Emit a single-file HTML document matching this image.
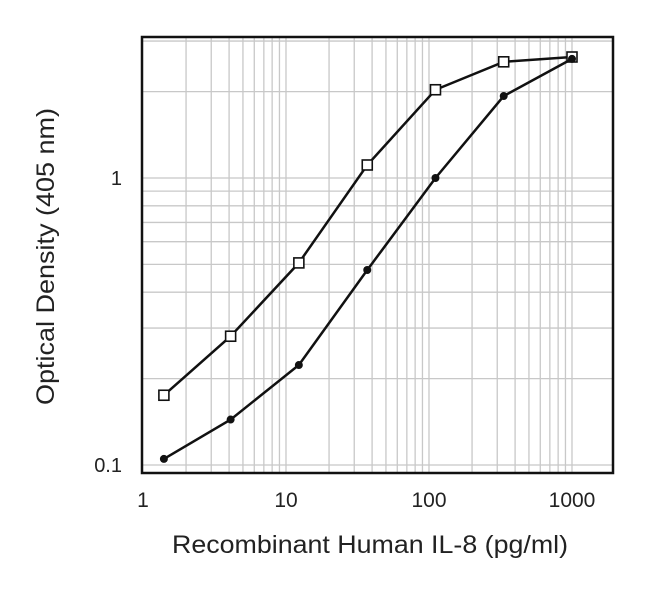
<!DOCTYPE html>
<html><head><meta charset="utf-8"><style>
body{margin:0;background:#fff;}
svg{display:block;font-family:"Liberation Sans",Arial,sans-serif;}
</style></head><body>
<svg id="chart" width="650" height="593" xmlns="http://www.w3.org/2000/svg"></svg>
<script>
const concentrations=[1.4,4.1,12.3,37,111,333,1000];
const openSeries=[0.175,0.281,0.506,1.11,2.03,2.54,2.64];
const filledSeries=[0.105,0.144,0.223,0.478,1.0,1.93,2.6];
const xTickValues=[1,10,100,1000];
const xTickLabels=["1","10","100","1000"];
const yTickValues=[0.1,1];
const yTickLabels=["0.1","1"];

const NS="http://www.w3.org/2000/svg";
const svg=document.getElementById('chart');
const L=142,R=613,T=37,B=473;
const xDec=143, yDec=287;
function xs(v){return 143+Math.log10(v)*xDec;}
function ys(v){return 178-Math.log10(v)*yDec;}
function mk(tag,attrs,parent){const e=document.createElementNS(NS,tag);for(const k in attrs)e.setAttribute(k,attrs[k]);(parent||svg).appendChild(e);return e;}

const grid=mk('g',{});


for(let d=1;d<=1000;d*=10){for(let m=1;m<=9;m++){const v=d*m;const x=xs(v);if(x<=L+1||x>=R)continue;
 const l=mk('line',{x1:x,x2:x,y1:T,y2:B,stroke:'#c8c8c8','stroke-width':1.3},grid);
 
 }}
for(let d=0.1;d<=1;d*=10){for(let m=1;m<=9;m++){const v=d*m;const y=ys(v);if(y<=T+1||y>=B-0.5)continue;
 const l=mk('line',{x1:L,x2:R,y1:y,y2:y,stroke:'#c8c8c8','stroke-width':1.3},grid);
 
 }}

const frame=mk('rect',{x:L,y:T,width:R-L,height:B-T,fill:'none',stroke:'#111','stroke-width':2.5});



xTickValues.forEach((v,i)=>{const t=mk('text',{x:xs(v),y:507,'text-anchor':'middle','font-size':21,fill:'#222'});t.textContent=xTickLabels[i];
 
 });
yTickValues.forEach((v,i)=>{const t=mk('text',{x:122,y:ys(v)+7,'text-anchor':'end','font-size':20,fill:'#222'});t.textContent=yTickLabels[i];
 
 });

function series(vals,filled,name){
 const g=mk('g',{});
 
 
 const pts=concentrations.map((c,i)=>xs(c)+','+ys(vals[i])).join(' ');
 const pl=mk('polyline',{points:pts,fill:'none',stroke:'#111','stroke-width':2.5},g);
 
 
 concentrations.forEach((c,i)=>{let m;
  if(filled){m=mk('circle',{cx:xs(c),cy:ys(vals[i]),r:4,fill:'#111'},g);}
  else{m=mk('rect',{x:xs(c)-5,y:ys(vals[i])-5,width:10,height:10,fill:'#fff',stroke:'#111','stroke-width':1.6},g);}
  
  });
}
series(openSeries,false,'open-square-series');
series(filledSeries,true,'filled-circle-series');

const xt=mk('text',{x:172,y:553,'font-size':25,fill:'#222',textLength:396,lengthAdjust:'spacingAndGlyphs'});
xt.textContent='Recombinant Human IL-8 (pg/ml)';


const yt=mk('text',{x:0,y:0,'font-size':25,fill:'#222',textLength:297,lengthAdjust:'spacingAndGlyphs',transform:'translate(54,405) rotate(-90)'});
yt.textContent='Optical Density (405 nm)';


</script>
</body></html>
